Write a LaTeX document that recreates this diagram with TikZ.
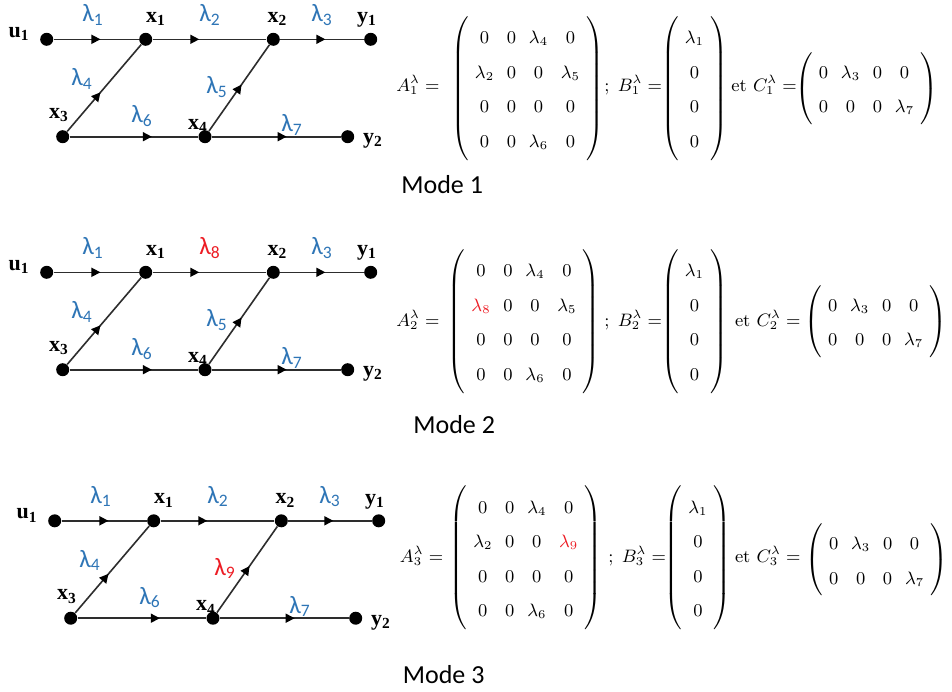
\documentclass[tikz,border=0pt]{standalone}
\usepackage{fontspec}
\usetikzlibrary{arrows.meta,decorations.markings}
\newfontfamily\calfont{Carlito}
\newfontfamily\timesfont{Liberation Serif}
\definecolor{lblue}{RGB}{46,117,182}
\definecolor{lred}{RGB}{237,28,36}
\definecolor{edgegray}{RGB}{45,45,45}
\renewcommand\arraystretch{1.57}
\setlength\arraycolsep{3.2pt}
\delimitershortfall=1pt
\tikzset{
  dot/.style={circle,fill=black,inner sep=0pt,minimum size=6.5pt},
  edge/.style={draw=edgegray,line width=0.8pt},
  midarrow/.style={postaction={decorate},decoration={markings,mark=at position #1 with {\arrow[black]{Triangle[length=4.5pt,width=4.5pt]}}}},
  vlab/.style={font=\timesfont\bfseries\fontsize{11}{13}\selectfont,inner sep=0pt},
  lam/.style={font=\calfont\fontsize{12.5}{14}\selectfont,text=lblue,inner sep=0pt},
  eq/.style={font=\fontsize{9}{11}\selectfont,inner sep=0pt},
  modetext/.style={font=\calfont\fontsize{13}{15}\selectfont,inner sep=0pt,anchor=west},
}
\newcommand\modegraph[5]{%
\begin{scope}[shift={(#2,#3)}]
  \node[dot] (#1u)  at (46.7,39.3) {};
  \node[dot] (#1x1) at (145.7,39.3) {};
  \node[dot] (#1x2) at (273.3,39.3) {};
  \node[dot] (#1y1) at (370.7,39.3) {};
  \node[dot] (#1x3) at (62.7,136.7) {};
  \node[dot] (#1x4) at (205,136.7) {};
  \node[dot] (#1y2) at (347.7,136.7) {};
  \draw[edge,midarrow=0.55] (#1u) -- (#1x1);
  \draw[edge,midarrow=0.41] (#1x1) -- (#1x2);
  \draw[edge,midarrow=0.54] (#1x2) -- (#1y1);
  \draw[edge,midarrow=0.45] (#1x3) -- (#1x1);
  \draw[edge,midarrow=0.54] (#1x4) -- (#1x2);
  \draw[edge,midarrow=0.64] (#1x3) -- (#1x4);
  \draw[edge,midarrow=0.58] (#1x4) -- (#1y2);
  \node[vlab] (#1tu)  at (19,34)   {u\textsubscript{1}};
  \node[vlab] (#1tx1) at (156,19)  {x\textsubscript{1}};
  \node[vlab] (#1tx2) at (277.5,19) {x\textsubscript{2}};
  \node[vlab] (#1ty1) at (367,20)  {y\textsubscript{1}};
  \node[vlab] (#1tx3) at (59,115)  {x\textsubscript{3}};
  \node[vlab] (#1tx4) at (198,126) {x\textsubscript{4}};
  \node[vlab] (#1ty2) at (373,141) {y\textsubscript{2}};
  \node[lam] (#1l1) at (93,15)  {λ\textsubscript{1}};
  \node[lam] (#1l2) at (210,15) {#4};
  \node[lam] (#1l3) at (322,15) {λ\textsubscript{3}};
  \node[lam] (#1l4) at (82,79)  {λ\textsubscript{4}};
  \node[lam] (#1l5) at (217,87) {#5};
  \node[lam] (#1l6) at (142,116) {λ\textsubscript{6}};
  \node[lam] (#1l7) at (292,125) {λ\textsubscript{7}};
\end{scope}}
\begin{document}
\begin{tikzpicture}[x=0.5pt,y=-0.5pt]
\useasboundingbox (0,0) rectangle (952,691);
\fill[white] (0,0) rectangle (952,691);

% ---------- graphs ----------
\modegraph{a}{0}{0}{λ\textsubscript{2}}{λ\textsubscript{5}}
\modegraph{b}{0}{233}{\textcolor{lred}{λ\textsubscript{8}}}{λ\textsubscript{5}}
\modegraph{c}{8}{481.5}{λ\textsubscript{2}}{\textcolor{lred}{λ\textsubscript{9}}}

% ---------- Mode 1 matrices ----------
\node[eq,anchor=base east] (aAl) at (440,91) {$A_1^\lambda =$};
\node[eq] (aA) at (527.5,88.5) {$\left(\begin{array}{cccc}
0 & 0 & \lambda_4 & 0\\
\lambda_2 & 0 & 0 & \lambda_5\\
0 & 0 & 0 & 0\\
0 & 0 & \lambda_6 & 0
\end{array}\right)$};
\node[eq,anchor=base west] (aBl) at (604,91) {$;\; B_1^\lambda =$};
\node[eq] (aB) at (694.5,88.5) {$\left(\begin{array}{c}
\lambda_1\\ 0\\ 0\\ 0
\end{array}\right)$};
\node[eq,anchor=base west] (aCl) at (731,91) {et $C_1^\lambda =$};
\node[eq] (aC) at (866.5,88.5) {$\left(\begin{array}{cccc}
0 & \lambda_3 & 0 & 0\\
0 & 0 & 0 & \lambda_7
\end{array}\right)$};
\node[modetext] (am) at (401,185) {Mode 1};

% ---------- Mode 2 matrices ----------
\node[eq,anchor=base east] (bAl) at (440,326.2) {$A_2^\lambda =$};
\node[eq] (bA) at (524,321.7) {$\left(\begin{array}{cccc}
0 & 0 & \lambda_4 & 0\\
\textcolor{lred}{\lambda_8} & 0 & 0 & \lambda_5\\
0 & 0 & 0 & 0\\
0 & 0 & \lambda_6 & 0
\end{array}\right)$};
\node[eq,anchor=base west] (bBl) at (604,326.2) {$;\; B_2^\lambda =$};
\node[eq] (bB) at (694.5,321.7) {$\left(\begin{array}{c}
\lambda_1\\ 0\\ 0\\ 0
\end{array}\right)$};
\node[eq,anchor=base west] (bCl) at (734.6,326.2) {et $C_2^\lambda =$};
\node[eq] (bC) at (875.7,321.7) {$\left(\begin{array}{cccc}
0 & \lambda_3 & 0 & 0\\
0 & 0 & 0 & \lambda_7
\end{array}\right)$};
\node[modetext] (bm) at (413,425) {Mode 2};

% ---------- Mode 3 matrices ----------
\node[eq,anchor=base east] (cAl) at (443.6,562.5) {$A_3^\lambda =$};
\node[eq] (cA) at (525.8,558) {$\left(\begin{array}{cccc}
0 & 0 & \lambda_4 & 0\\
\lambda_2 & 0 & 0 & \textcolor{lred}{\lambda_9}\\
0 & 0 & 0 & 0\\
0 & 0 & \lambda_6 & 0
\end{array}\right)$};
\node[eq,anchor=base west] (cBl) at (608,562.5) {$;\; B_3^\lambda =$};
\node[eq] (cB) at (698,558) {$\left(\begin{array}{c}
\lambda_1\\ 0\\ 0\\ 0
\end{array}\right)$};
\node[eq,anchor=base west] (cCl) at (734.6,562.5) {et $C_3^\lambda =$};
\node[eq] (cC) at (876.6,560) {$\left(\begin{array}{cccc}
0 & \lambda_3 & 0 & 0\\
0 & 0 & 0 & \lambda_7
\end{array}\right)$};
\node[modetext] (cm) at (402.5,675) {Mode 3};
\end{tikzpicture}
\end{document}
